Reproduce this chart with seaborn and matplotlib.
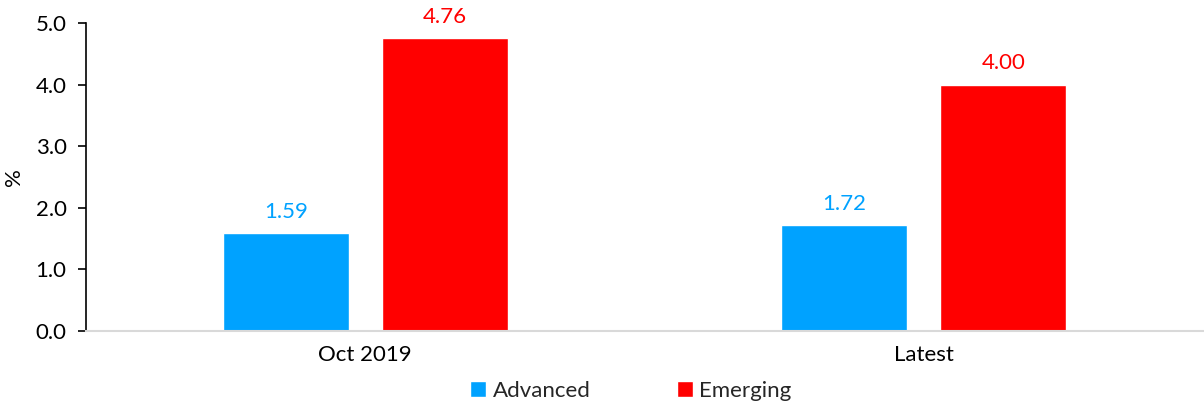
import matplotlib
matplotlib.use("Agg")
import matplotlib.pyplot as plt
import seaborn as sns
import pandas as pd
from matplotlib.patches import Patch

categories = ["Oct 2019", "Latest"]
series_names = ["Advanced", "Emerging"]
advanced = [1.59, 1.72]
emerging = [4.76, 4.00]
yticks = [0.0, 1.0, 2.0, 3.0, 4.0, 5.0]

colors = {"Advanced": "#00A2FF", "Emerging": "#FF0000"}

df = pd.DataFrame({
    "category": categories * 2,
    "series": [series_names[0]] * 2 + [series_names[1]] * 2,
    "value": advanced + emerging,
})

sns.set_theme(style="white")
plt.rcParams["font.family"] = ["Lato", "DejaVu Sans"]
FS = 16

fig = plt.figure(figsize=(12.04, 4.05), dpi=100)
ax = fig.add_axes([86 / 1204, 1 - 331 / 405, (1203 - 86) / 1204, (331 - 23) / 405])

sns.barplot(data=df, x="category", y="value", hue="series", order=categories,
            hue_order=series_names, palette=colors, width=0.57, gap=0.21,
            saturation=1, ax=ax, legend=False)

for container, name in zip(ax.containers, series_names):
    ax.bar_label(container, fmt="%.2f", padding=8, color=colors[name], fontsize=FS)

ax.set_xlim(-0.5, 1.5)
ax.set_ylim(0, 5)
ax.set_yticks(yticks)
ax.set_yticklabels([f"{v:.1f}" for v in yticks], fontsize=FS, color="#000000")
ax.tick_params(axis="y", which="major", direction="out", length=6, width=1.2,
               color="#000000", left=True, pad=8)
ax.tick_params(axis="x", length=0, labelsize=FS, pad=10, labelcolor="#000000")
ax.set_xlabel("")
ax.set_ylabel("%", fontsize=FS, color="#000000", labelpad=8)

for s in ["top", "right"]:
    ax.spines[s].set_visible(False)
ax.spines["left"].set_color("#000000")
ax.spines["left"].set_linewidth(1.2)
ax.spines["bottom"].set_color("#D9D9D9")
ax.spines["bottom"].set_linewidth(1.5)

handles = [Patch(facecolor=colors[n], label=n) for n in series_names]
fig.legend(handles=handles, loc="center", bbox_to_anchor=(631 / 1204, 1 - 391 / 405),
           ncol=2, frameon=False, fontsize=FS, handlelength=0.7, handleheight=0.7,
           handletextpad=0.3, columnspacing=3.9)

fig.savefig("out.png", dpi=100)
